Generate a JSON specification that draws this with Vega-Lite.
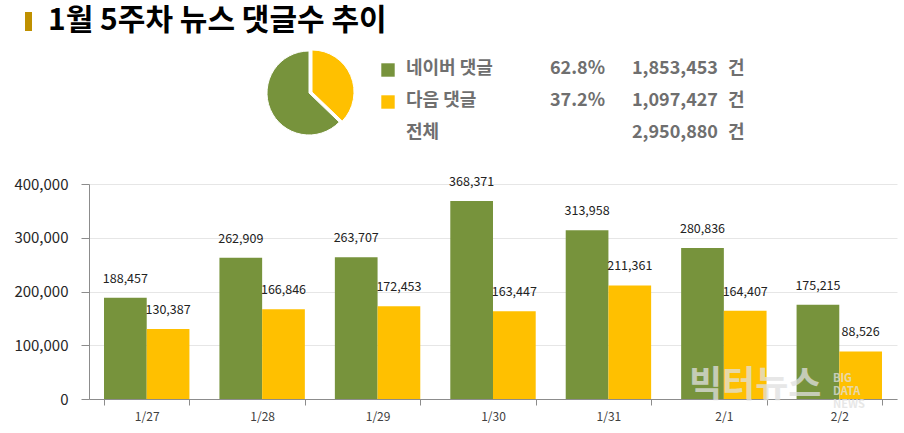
{
  "$schema": "https://vega.github.io/schema/vega-lite/v6.json",
  "padding": {"left": 13, "top": 0, "right": 8, "bottom": 5},
  "bounds": "flush",
  "spacing": 0,
  "config": {"view": {"stroke": null}, "font": "Noto Sans CJK KR"},
  "datasets": {
    "daily": [
      {"date": "1/27", "series": "네이버 댓글", "value": 188457},
      {"date": "1/27", "series": "다음 댓글", "value": 130387},
      {"date": "1/28", "series": "네이버 댓글", "value": 262909},
      {"date": "1/28", "series": "다음 댓글", "value": 166846},
      {"date": "1/29", "series": "네이버 댓글", "value": 263707},
      {"date": "1/29", "series": "다음 댓글", "value": 172453},
      {"date": "1/30", "series": "네이버 댓글", "value": 368371},
      {"date": "1/30", "series": "다음 댓글", "value": 163447},
      {"date": "1/31", "series": "네이버 댓글", "value": 313958},
      {"date": "1/31", "series": "다음 댓글", "value": 211361},
      {"date": "2/1", "series": "네이버 댓글", "value": 280836},
      {"date": "2/1", "series": "다음 댓글", "value": 164407},
      {"date": "2/2", "series": "네이버 댓글", "value": 175215},
      {"date": "2/2", "series": "다음 댓글", "value": 88526}
    ],
    "share": [
      {"series": "다음 댓글", "value": 1097427, "ord": 1},
      {"series": "네이버 댓글", "value": 1853453, "ord": 2}
    ],
    "summary": [
      {"label": "네이버 댓글", "series": "네이버 댓글", "pct": "62.8%", "count": "1,853,453", "unit": "건"},
      {"label": "다음 댓글", "series": "다음 댓글", "pct": "37.2%", "count": "1,097,427", "unit": "건"},
      {"label": "전체", "series": "", "pct": "", "count": "2,950,880", "unit": "건"}
    ],
    "header": [{"title": "1월 5주차 뉴스 댓글수 추이"}]
  },
  "vconcat": [
    {
      "width": 440,
      "height": 184,
      "layer": [
        {
          "data": {"name": "header"},
          "mark": {"type": "rect", "color": "#BF9000"},
          "encoding": {"x": {"value": -64}, "x2": {"value": -57}, "y": {"value": 12}, "y2": {"value": 31}}
        },
        {
          "data": {"name": "header"},
          "mark": {"type": "text", "align": "left", "baseline": "middle", "fontSize": 30, "fontWeight": "bold", "color": "#000000"},
          "encoding": {"x": {"value": -41}, "y": {"value": 21}, "text": {"field": "title"}}
        },
        {
          "data": {"name": "share"},
          "transform": [
            {"stack": "value", "groupby": [], "sort": [{"field": "ord"}], "as": ["v0", "v1"]},
            {"filter": "datum.series === '네이버 댓글'"}
          ],
          "mark": {"type": "arc", "radius": 42, "stroke": "#ffffff", "strokeWidth": 1, "yOffset": 1},
          "encoding": {
            "theta": {"field": "v0", "type": "quantitative", "scale": {"domain": [0, 2950880]}},
            "theta2": {"field": "v1"},
            "color": {"field": "series", "type": "nominal", "scale": {"domain": ["네이버 댓글", "다음 댓글"], "range": ["#77933C", "#FFC000"]}, "legend": null}
          }
        },
        {
          "data": {"name": "share"},
          "transform": [
            {"stack": "value", "groupby": [], "sort": [{"field": "ord"}], "as": ["v0", "v1"]},
            {"filter": "datum.series === '다음 댓글'"}
          ],
          "mark": {"type": "arc", "radius": 42, "stroke": "#ffffff", "strokeWidth": 1, "xOffset": 3, "yOffset": 0},
          "encoding": {
            "theta": {"field": "v0", "type": "quantitative", "scale": {"domain": [0, 2950880]}},
            "theta2": {"field": "v1"},
            "color": {"field": "series", "type": "nominal", "scale": {"domain": ["네이버 댓글", "다음 댓글"], "range": ["#77933C", "#FFC000"]}, "legend": null}
          }
        },
        {
          "data": {"name": "summary"},
          "transform": [{"filter": "datum.series !== ''"}],
          "mark": {"type": "point", "shape": "square", "filled": true, "size": 180, "opacity": 1, "yOffset": 1},
          "encoding": {
            "x": {"value": 299},
            "y": {"field": "label", "type": "nominal", "sort": ["네이버 댓글", "다음 댓글", "전체"], "scale": {"type": "point", "range": [69, 133], "padding": 0}, "axis": null},
            "color": {"field": "series", "type": "nominal", "scale": {"domain": ["네이버 댓글", "다음 댓글"], "range": ["#77933C", "#FFC000"]}, "legend": null}
          }
        },
        {
          "data": {"name": "summary"},
          "mark": {"type": "text", "align": "left", "baseline": "middle", "fontSize": 18, "fontWeight": "bold", "color": "#6F6F6F"},
          "encoding": {
            "x": {"value": 317},
            "y": {"field": "label", "type": "nominal", "sort": ["네이버 댓글", "다음 댓글", "전체"]},
            "text": {"field": "label"}
          }
        },
        {
          "data": {"name": "summary"},
          "mark": {"type": "text", "align": "right", "baseline": "middle", "fontSize": 18, "fontWeight": "bold", "color": "#6F6F6F"},
          "encoding": {
            "x": {"value": 516},
            "y": {"field": "label", "type": "nominal", "sort": ["네이버 댓글", "다음 댓글", "전체"]},
            "text": {"field": "pct"}
          }
        },
        {
          "data": {"name": "summary"},
          "mark": {"type": "text", "align": "right", "baseline": "middle", "fontSize": 18, "fontWeight": "bold", "color": "#6F6F6F"},
          "encoding": {
            "x": {"value": 629},
            "y": {"field": "label", "type": "nominal", "sort": ["네이버 댓글", "다음 댓글", "전체"]},
            "text": {"field": "count"}
          }
        },
        {
          "data": {"name": "summary"},
          "mark": {"type": "text", "align": "left", "baseline": "middle", "fontSize": 18, "fontWeight": "bold", "color": "#6F6F6F"},
          "encoding": {
            "x": {"value": 639},
            "y": {"field": "label", "type": "nominal", "sort": ["네이버 댓글", "다음 댓글", "전체"]},
            "text": {"field": "unit"}
          }
        }
      ]
    },
    {
      "width": 808,
      "height": 215,
      "layer": [
        {
          "data": {"name": "daily"},
          "mark": {"type": "bar"},
          "encoding": {
            "x": {
              "field": "date", "type": "nominal", "sort": null,
              "scale": {"paddingInner": 0.26, "paddingOuter": 0.13},
              "axis": {"title": null, "labelAngle": 0, "tickBand": "extent", "domainColor": "#8C8C8C", "tickColor": "#8C8C8C", "tickSize": 6, "labelFontSize": 12, "labelColor": "#404040", "labelPadding": 6, "grid": false}
            },
            "xOffset": {"field": "series", "type": "nominal", "sort": ["네이버 댓글", "다음 댓글"]},
            "y": {
              "field": "value", "type": "quantitative",
              "scale": {"domain": [0, 400000]},
              "axis": {"title": null, "values": [0, 100000, 200000, 300000, 400000], "format": ",d", "labelFontSize": 15, "labelColor": "#262626", "gridColor": "#E6E6E6", "domainColor": "#8C8C8C", "tickColor": "#8C8C8C", "tickSize": 8, "labelPadding": 13}
            },
            "color": {"field": "series", "type": "nominal", "scale": {"domain": ["네이버 댓글", "다음 댓글"], "range": ["#77933C", "#FFC000"]}, "legend": null}
          }
        },
        {
          "data": {"name": "daily"},
          "mark": {"type": "text", "baseline": "middle", "dy": -19, "fontSize": 12.5, "color": "#222222"},
          "encoding": {
            "x": {"field": "date", "type": "nominal", "sort": null},
            "xOffset": {"field": "series", "type": "nominal", "sort": ["네이버 댓글", "다음 댓글"]},
            "y": {"field": "value", "type": "quantitative"},
            "text": {"field": "value", "type": "quantitative", "format": ","}
          }
        },
        {
          "data": {"values": [{"wm": "빅터뉴스", "sub": "BIG DATA NEWS"}]},
          "mark": {"type": "text", "align": "left", "baseline": "middle", "fontSize": 36, "fontWeight": "bold", "color": "#E0E0E0", "opacity": 0.75},
          "encoding": {"x": {"value": 600}, "y": {"value": 202}, "text": {"field": "wm"}}
        },
        {
          "data": {"values": [{"wm": "빅터뉴스", "sub": "BIG DATA NEWS"}]},
          "mark": {"type": "text", "align": "left", "baseline": "top", "fontSize": 11, "fontWeight": "bold", "lineHeight": 13, "lineBreak": " ", "color": "#E0E0E0", "opacity": 0.75},
          "encoding": {"x": {"value": 744}, "y": {"value": 189}, "text": {"field": "sub"}}
        }
      ]
    }
  ]
}
